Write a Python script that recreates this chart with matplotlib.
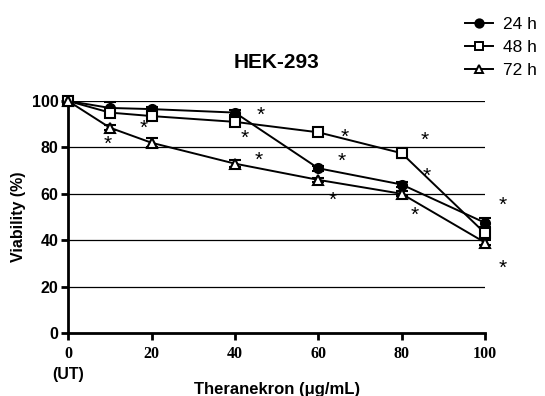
import matplotlib.pyplot as plt
from matplotlib.lines import Line2D

dose = [0, 10, 20, 40, 60, 80, 100]
via_24h = [100, 97, 96.5, 95, 71, 64, 47.5]
via_48h = [100, 95, 93.5, 91, 86.5, 77.5, 43]
via_72h = [100, 88.5, 82, 73, 66, 60, 39]
err_24h = [0, 2.5, 1, 1, 1, 1, 2]
err_48h = [0, 1.5, 1, 1, 1, 2, 1.5]
err_72h = [0, 1, 2, 1.5, 1, 1, 1]

# asterisk positions (x, y) in data units
star_x = [46.3, 42.4, 65.7, 66.4, 45.6, 9.6, 18.1, 63.5, 86.1, 85.6, 83.2, 104.3, 104.3]
star_y = [95.3, 85.3, 75.4, 85.8, 75.9, 82.8, 89.6, 58.6, 69.0, 84.5, 52.2, 56.5, 29.3]

xticks = [0, 20, 40, 60, 80, 100]
yticks = [0, 20, 40, 60, 80, 100]

plt.rcParams['font.family'] = ['Liberation Sans', 'DejaVu Sans']

fig = plt.figure(figsize=(5.45, 3.96), dpi=100)
ax = fig.add_axes([0.125, 0.159, 0.765, 0.586])

series = [
    (via_24h, err_24h, 'o', 'black', '24 h'),
    (via_48h, err_48h, 's', 'white', '48 h'),
    (via_72h, err_72h, '^', 'white', '72 h'),
]
handles = []
for vals, err, mk, fc, lab in series:
    ax.errorbar(dose, vals, yerr=err, color='black', lw=1.4, marker=mk,
                markersize=6.5, markerfacecolor=fc, markeredgecolor='black',
                markeredgewidth=1.5, capsize=4, capthick=1.4, elinewidth=1.4,
                clip_on=False, zorder=3)
    handles.append(Line2D([], [], color='black', lw=1.4, marker=mk,
                          markersize=6, markerfacecolor=fc,
                          markeredgecolor='black', markeredgewidth=1.4,
                          label=lab))

# the asterisk glyph sits high above the baseline, so drop the baseline
for sx, sy in zip(star_x, star_y):
    ax.annotate('*', (sx, sy), xytext=(0, -6.6), textcoords='offset points',
                fontsize=15, ha='center', va='baseline', annotation_clip=False)

ax.set_xlim(0, 100)
ax.set_ylim(0, 100)
ax.set_xticks(xticks)
ax.set_yticks(yticks)
ax.set_xticklabels([str(t) for t in xticks], family='Liberation Serif',
                   fontweight='bold', fontsize=11.5)
ax.set_yticklabels([str(t) for t in yticks], fontweight='bold', fontsize=11.5)
for y in yticks[1:]:
    ax.axhline(y, color='black', lw=0.9, zorder=1)

for side in ['top', 'right']:
    ax.spines[side].set_visible(False)
for side in ['left', 'bottom']:
    ax.spines[side].set_linewidth(2)
ax.tick_params(width=2, length=5, direction='out', pad=2)
ax.tick_params(axis='x', pad=4)

ax.set_title('HEK-293', fontweight='bold', fontsize=15, pad=24)
ax.set_ylabel('Viability (%)', fontweight='bold', fontsize=11.5, labelpad=4)
ax.set_xlabel('Theranekron (\u03bcg/mL)', fontweight='bold', fontsize=12,
              labelpad=15)
ax.text(0, -0.145, '(UT)', transform=ax.transAxes, ha='center', va='top',
        fontweight='bold', fontsize=11.5)

ax.legend(handles=handles, loc='upper left', bbox_to_anchor=(0.915, 1.43),
          frameon=False, fontsize=12.5, handlelength=1.6, handletextpad=0.6,
          labelspacing=0.45)

fig.savefig('out.png', dpi=100)
